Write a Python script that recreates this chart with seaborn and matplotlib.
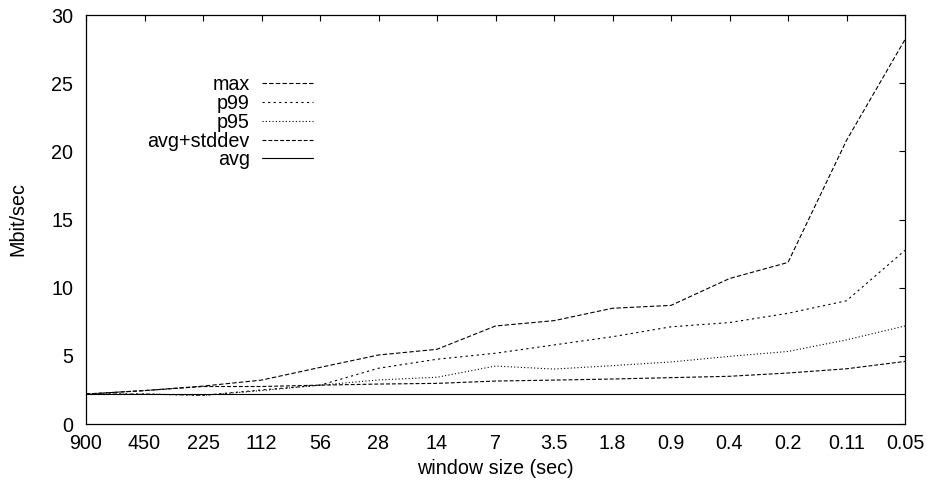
import matplotlib
matplotlib.use("Agg")
import matplotlib.pyplot as plt
import seaborn as sns
import pandas as pd

window = ["900", "450", "225", "112", "56", "28", "14", "7", "3.5", "1.8",
          "0.9", "0.4", "0.2", "0.11", "0.05"]
series_names = ["max", "p99", "p95", "avg+stddev", "avg"]
max_v = [2.2, 2.45, 2.78, 3.22, 4.15, 5.06, 5.48, 7.19, 7.58, 8.49, 8.7, 10.67, 11.85, 20.8, 28.2]
p99_v = [2.2, 2.2, 2.1, 2.5, 2.85, 4.09, 4.75, 5.19, 5.8, 6.4, 7.13, 7.44, 8.12, 9.04, 12.74]
p95_v = [2.2, 2.2, 2.1, 2.45, 2.85, 3.23, 3.43, 4.25, 4.03, 4.28, 4.55, 4.96, 5.32, 6.17, 7.19]
avgsd_v = [2.2, 2.45, 2.75, 2.75, 2.85, 2.93, 2.98, 3.15, 3.22, 3.3, 3.4, 3.5, 3.74, 4.05, 4.59]
avg_v = [2.2, 2.2, 2.2, 2.2, 2.2, 2.2, 2.2, 2.2, 2.2, 2.2, 2.2, 2.2, 2.2, 2.2, 2.2]
y_ticks = [0, 5, 10, 15, 20, 25, 30]

values = {"max": max_v, "p99": p99_v, "p95": p95_v, "avg+stddev": avgsd_v, "avg": avg_v}
rows = []
for name in series_names:
    for w, v in zip(window, values[name]):
        rows.append({"window": w, "value": v, "series": name})
df = pd.DataFrame(rows)

FS = 14.2

sns.set_theme(style="white")
plt.rcParams["font.family"] = ["Liberation Sans", "DejaVu Sans"]
plt.rcParams["font.size"] = FS
plt.rcParams["text.color"] = "black"
plt.rcParams["axes.labelcolor"] = "black"

fig = plt.figure(figsize=(9.27, 4.87), dpi=100)
ax = fig.add_axes([86 / 927, 1 - 424 / 487, (905 - 86) / 927, (424 - 15) / 487])

dash_map = {"max": (4, 2), "p99": (2, 3), "p95": (1, 2), "avg+stddev": (3.5, 1.8), "avg": ""}
palette = {n: "black" for n in series_names}
sns.lineplot(data=df, x="window", y="value", hue="series", style="series",
             hue_order=series_names, style_order=series_names,
             palette=palette, dashes=dash_map, linewidth=0.8, ax=ax, sort=False)

ax.set_xlim(0, len(window) - 1)
ax.set_ylim(0, 30)
ax.set_yticks(y_ticks)
ax.set_xticks(range(len(window)))
ax.set_xticklabels(window)
ax.set_xlabel("window size (sec)", fontsize=FS, labelpad=4, color="black")
ax.set_ylabel("Mbit/sec", fontsize=FS, labelpad=17, color="black")
ax.tick_params(direction="in", length=4, width=0.8, top=True, right=True,
               labelsize=FS, colors="black")
ax.tick_params(axis="x", pad=7.5)
ax.tick_params(axis="y", pad=9.2)
for s in ax.spines.values():
    s.set_color("black")
    s.set_linewidth(0.9)
ax.grid(False)

leg = ax.legend(loc="upper right", bbox_to_anchor=(0.277, 0.853), markerfirst=False,
                frameon=False, handlelength=2.6, handletextpad=0.6,
                labelspacing=-0.01, borderpad=0, borderaxespad=0, fontsize=FS)
for line in leg.get_lines():
    line.set_linewidth(0.8)
for t in leg.get_texts():
    t.set_color("black")

fig.savefig("out.png", dpi=100)
